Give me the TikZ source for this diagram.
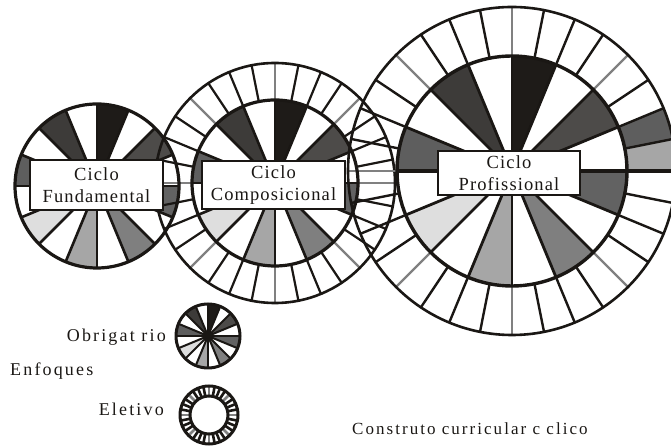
\documentclass[tikz,border=0pt]{standalone}
\usepackage{fontspec}
\setmainfont{Liberation Serif}
\newfontfamily\boxfont[LetterSpace=6]{Liberation Serif}
\newfontfamily\lgfont[LetterSpace=12]{Liberation Serif}
\definecolor{ink}{HTML}{1A1714}
\definecolor{rg}{HTML}{808080}
\definecolor{sa}{HTML}{4D4B49}
\definecolor{sb}{HTML}{1E1B18}
\definecolor{sc}{HTML}{3D3B39}
\definecolor{sd}{HTML}{5E5E5E}
\definecolor{se}{HTML}{DEDEDE}
\definecolor{sf}{HTML}{A6A6A6}
\definecolor{sg}{HTML}{7F7F7F}
\definecolor{sh}{HTML}{626262}
\newcommand\wfill[3]{%
  \foreach \k/\c in {1/sa,3/sb,5/sc,7/sd,9/se,11/sf,13/sg,15/sh}{%
    \fill[\c,shift={(#1,#2)}] (0,0) -- (\k*22.5:#3) arc[start angle=\k*22.5, delta angle=22.5, radius=#3] -- cycle;}}
\newcommand\wlines[5]{%
  \foreach \k in {0,...,15}{\draw[ink,line width=#4,shift={(#1,#2)}] (0,0) -- (\k*22.5:#3);}
  \draw[ink,line width=#5] (#1,#2) circle[radius=#3];}
\newcommand\wring[5]{%
  \foreach \i in {0,...,31}{%
    \pgfmathtruncatemacro\m{mod(\i,4)}%
    \ifnum\m=0 \def\col{rg}\else\def\col{ink}\fi
    \draw[\col,line width=#5,shift={(#1,#2)}] (\i*11.25:#3) -- (\i*11.25:#4);}
  \draw[ink,line width=2.6pt] (#1,#2) circle[radius=#4];}
\tikzset{
  cbox/.style={draw=ink, line width=2.6pt, fill=white, align=center, text=ink,
    font=\boxfont\fontsize{18.5}{22}\selectfont, inner sep=0pt},
  lg/.style={text=ink, inner sep=0pt, font=\lgfont\fontsize{18}{20}\selectfont}
}
\begin{document}
\begin{tikzpicture}[x=1pt,y=1pt]
\useasboundingbox (0,0) rectangle (671,446);
\clip (0,0) rectangle (671,446);
% fills
\wfill{97}{260}{82}
\wfill{275}{263}{83}
\wfill{512}{275}{115}
\fill[sf,shift={(512,275)}] (0:115) arc[start angle=0,end angle=11.25,radius=115] -- (11.25:164) arc[start angle=11.25,end angle=0,radius=164] -- cycle;
\fill[sd,shift={(512,275)}] (11.25:115) arc[start angle=11.25,end angle=22.5,radius=115] -- (22.5:164) arc[start angle=22.5,end angle=11.25,radius=164] -- cycle;
\wfill{208}{110}{32}
% rings
\wring{275}{263}{83}{120}{2.2pt}
\wring{512}{275}{115}{164}{2.4pt}
\draw[ink,line width=4pt,shift={(512,275)}] (0:115) -- (0:164);
% discs
\wlines{97}{260}{82}{2.6pt}{3.2pt}
\wlines{275}{263}{83}{2.6pt}{3.2pt}
\wlines{512}{275}{115}{2.8pt}{3.4pt}
\draw[ink,line width=4.5pt] (397,275) -- (627,275);
% boxes
\node[cbox, minimum width=133pt, minimum height=50pt] (fund) at (96.5,261) {Ciclo\\Fundamental};
\node[cbox, minimum width=143pt, minimum height=48pt] (comp) at (273.5,261) {Ciclo\\Composicional};
\node[cbox, minimum width=142pt, minimum height=44pt] (prof) at (509,273) {Ciclo\\Profissional};
% legend
\wlines{208}{110}{32}{2pt}{3pt}
\fill[ink] (208,110) circle[radius=5];
\foreach \i in {0,...,31}{%
  \pgfmathtruncatemacro\m{mod(\i,4)}%
  \ifnum\m=0 \def\col{rg}\else\def\col{ink}\fi
  \draw[\col,line width=2.6pt,shift={(209,31)}] (\i*11.25:19) -- (\i*11.25:29);}
\draw[ink,line width=3pt] (209,31) circle[radius=29];
\draw[ink,line width=3pt] (209,31) circle[radius=19];
\node[lg, anchor=base east] (obr) at (166,104) {Obrigat rio};
\node[lg, anchor=base west] (enf) at (10,70) {Enfoques};
\node[lg, anchor=base east] (ele) at (164,30) {Eletivo};
\node[lg, anchor=base west, font=\lgfont\fontsize{17}{20}\selectfont] (con) at (352,11) {Construto curricular c clico};
\end{tikzpicture}
\end{document}
